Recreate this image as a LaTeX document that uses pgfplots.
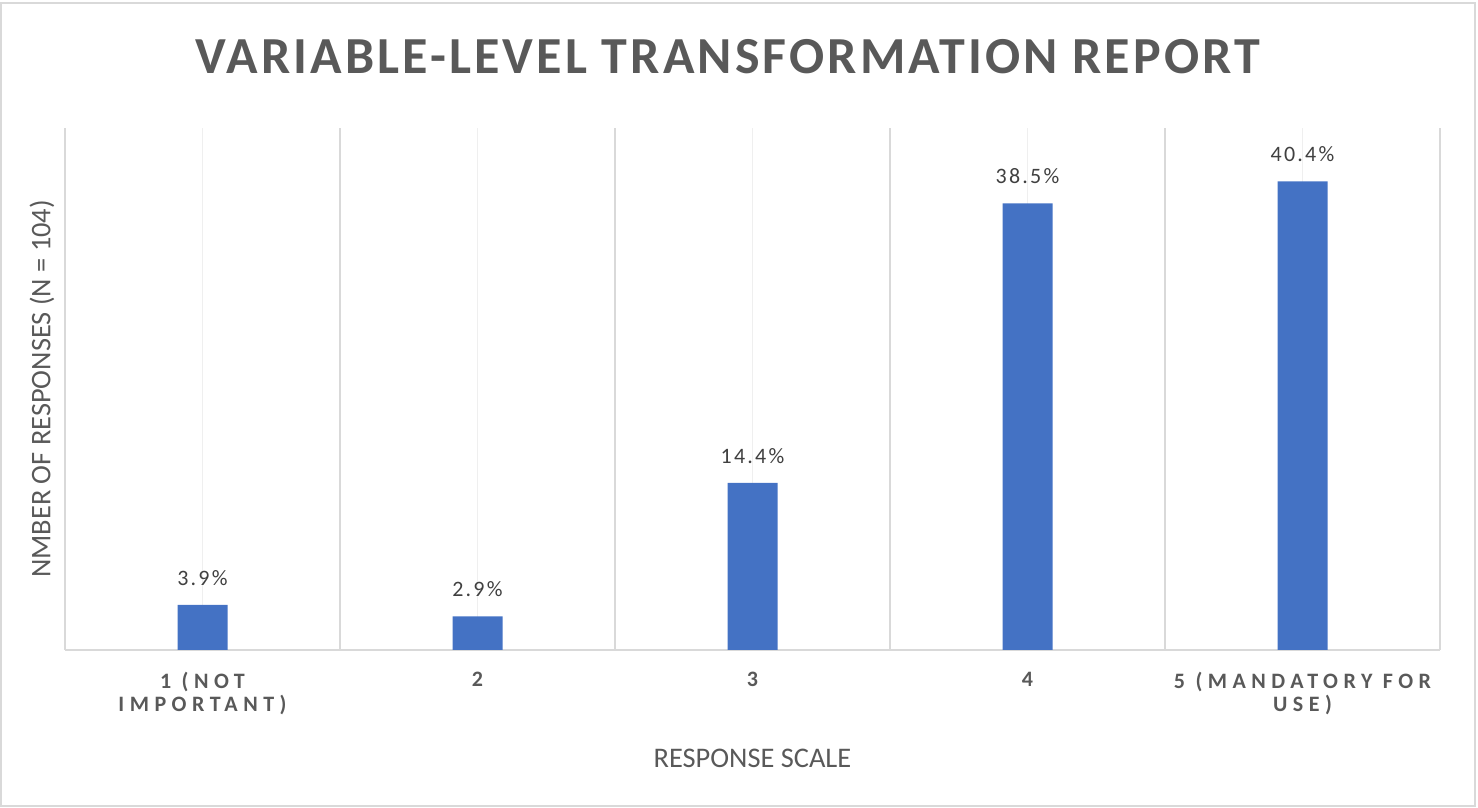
\documentclass[border=0pt]{standalone}
\usepackage{pgfplots}
\pgfplotsset{compat=1.18}
\usepackage{fontspec}
\setmainfont{Carlito}
\newfontfamily\spacedfont[LetterSpace=25]{Carlito}
\newfontfamily\labelfont[LetterSpace=10]{Carlito}
\newfontfamily\titlefont[LetterSpace=6]{Carlito}
\definecolor{barblue}{HTML}{4472C4}
\definecolor{txtgray}{HTML}{595959}
\definecolor{lblgray}{HTML}{404040}
\definecolor{gridA}{HTML}{D9D9D9}
\definecolor{gridB}{HTML}{EFEFEF}

\pgfplotstableread{
x  pct
1  3.9
2  2.9
3  14.4
4  38.5
5  40.4
}\responses

\begin{document}
\begin{tikzpicture}
% page extent and chart frame
\path (0pt,0pt) rectangle (739pt,404pt);
\draw[gridA,line width=1pt] (0.5pt,1pt) rectangle (737.5pt,402.5pt);

\begin{axis}[
  at={(32.5pt,79pt)}, anchor=south west,
  scale only axis, width=687.5pt, height=261pt,
  xmin=0.5, xmax=5.5, ymin=0, ymax=45,
  axis x line*=bottom, axis y line*=left,
  x axis line style={gridA,line width=1pt},
  y axis line style={draw=none},
  ytick=\empty,
  xtick={1,2,3,4,5},
  xticklabels={{1 (NOT\\IMPORTANT)},2,3,4,{5 (MANDATORY FOR\\USE)}},
  minor xtick={0.5,1.5,2.5,3.5,4.5,5.5},
  major tick length=0pt, minor tick length=0pt,
  xmajorgrids, xminorgrids,
  major grid style={gridB,line width=0.6pt},
  minor grid style={gridA,line width=0.8pt},
  xticklabel style={font=\spacedfont\bfseries\fontsize{11pt}{11.5pt}\selectfont, text=txtgray,
    align=center, anchor=north, inner sep=0pt, yshift=-11pt},
  /pgf/number format/assume math mode=true,
  title={\titlefont\bfseries VARIABLE-LEVEL TRANSFORMATION REPORT},
  title style={at={(axis description cs:0.482,1.113)}, anchor=center,
    font=\fontsize{26pt}{30pt}\selectfont, text=txtgray},
  xlabel={RESPONSE SCALE},
  ylabel={NMBER OF RESPONSES (N = 104)},
  every axis x label/.style={at={(axis description cs:0.5,-0.207)}, anchor=center,
    font=\fontsize{14.2pt}{16pt}\selectfont, text=txtgray},
  every axis y label/.style={at={(axis description cs:-0.0167,0.5)}, rotate=90, anchor=center,
    font=\fontsize{14.2pt}{16pt}\selectfont, text=txtgray},
  ybar, bar width=25pt,
  nodes near coords={\pgfmathprintnumber[fixed,precision=1,fixed zerofill]{\pgfplotspointmeta}\%},
  every node near coord/.append style={font=\labelfont\fontsize{11pt}{12pt}\selectfont, text=lblgray,
    anchor=south, inner sep=0pt, yshift=9.5pt},
  clip=false,
]
\addplot[fill=barblue, draw=none] table[x=x, y=pct] {\responses};
\end{axis}
\end{tikzpicture}
\end{document}
